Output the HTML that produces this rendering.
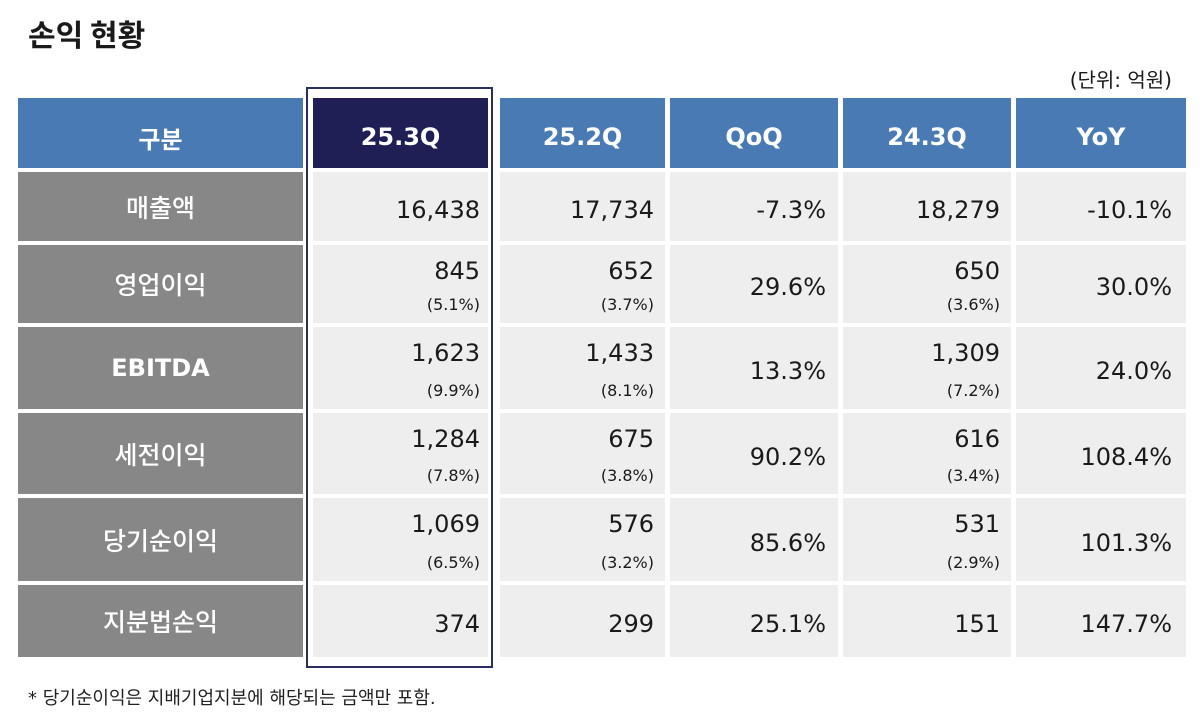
<!DOCTYPE html>
<html><head><meta charset="utf-8">
<style>
body{margin:0;width:1200px;height:723px;background:#fff;position:relative;overflow:hidden;font-family:"DejaVu Sans","Liberation Sans","Noto Sans CJK KR",sans-serif;color:#1a1a1a}
.a{position:absolute;box-sizing:border-box}
.hd{color:#fff;font-weight:bold;font-size:24px;display:flex;align-items:center;justify-content:center;font-family:"DejaVu Sans","Noto Sans CJK KR",sans-serif;padding-top:8px}
.lab{background:#878787;color:#fff;font-size:25px;display:flex;align-items:center;justify-content:center;font-family:"Noto Sans CJK KR","DejaVu Sans",sans-serif;font-weight:500}
.cell{background:#eeeeee}
.v{position:absolute;right:0;font-size:24px;white-space:nowrap;line-height:1}
.p{position:absolute;right:0;font-size:16px;white-space:nowrap;line-height:1}
</style></head><body>
<div class="a" style="left:28px;top:11px;font-size:30px;font-weight:bold;font-family:'Noto Sans CJK KR',sans-serif">손익 현황</div>
<div class="a" style="right:28px;top:64px;font-size:20px;font-family:'DejaVu Sans','Noto Sans CJK KR',sans-serif">(단위: 억원)</div>
<div class="a" style="left:306px;top:87px;width:187px;height:581px;border:2px solid #2a2f5c"></div>
<div id="t"></div>
<div class="a" style="left:28px;top:684px;font-size:18px;font-family:'DejaVu Sans','Noto Sans CJK KR',sans-serif;color:#222">* 당기순이익은 지배기업지분에 해당되는 금액만 포함.</div>
<script>
const headers=["구분","25.3Q","25.2Q","QoQ","24.3Q","YoY"];
const rowLabels=["매출액","영업이익","EBITDA","세전이익","당기순이익","지분법손익"];
const vals=[
["16,438","17,734","-7.3%","18,279","-10.1%"],
["845","652","29.6%","650","30.0%"],
["1,623","1,433","13.3%","1,309","24.0%"],
["1,284","675","90.2%","616","108.4%"],
["1,069","576","85.6%","531","101.3%"],
["374","299","25.1%","151","147.7%"]];
const pcts=[
["","","","",""],
["(5.1%)","(3.7%)","","(3.6%)",""],
["(9.9%)","(8.1%)","","(7.2%)",""],
["(7.8%)","(3.8%)","","(3.4%)",""],
["(6.5%)","(3.2%)","","(2.9%)",""],
["","","","",""]];
const colX=[[18,303],[313,488],[500,665],[670,838],[843,1011],[1016,1186]];
const textRight=[0,480,654,826,1000,1172];
const rowY=[[172,241],[245,323],[327,409],[413,494],[498,581],[585,657]];
const t=document.getElementById('t');
function box(x,y,w,h,cls){const d=document.createElement('div');d.className='a '+cls;d.style.left=x+'px';d.style.top=y+'px';d.style.width=w+'px';d.style.height=h+'px';t.appendChild(d);return d;}
headers.forEach((h,i)=>{
  const d=box(colX[i][0],98,colX[i][1]-colX[i][0],70,'hd');
  d.style.background=i===1?'#1f1f55':'#4a7ab4';
  if(i===0)d.style.fontFamily="'Noto Sans CJK KR',sans-serif";
  d.textContent=h;
  
  
});
rowLabels.forEach((r,ri)=>{
  const y0=rowY[ri][0],hh=rowY[ri][1]-rowY[ri][0];
  const l=box(colX[0][0],y0,colX[0][1]-colX[0][0],hh,'lab');
  if(r==='EBITDA'){l.style.fontFamily="'DejaVu Sans',sans-serif";l.style.fontWeight='bold';l.style.fontSize='24px';}
  l.textContent=r;
  
  
  for(let c=1;c<6;c++){
    const cell=box(colX[c][0],y0,colX[c][1]-colX[c][0],hh,'cell');
    
    
    const v=document.createElement('div');v.className='v';
    v.style.right=(colX[c][1]-textRight[c])+'px';
    const p=pcts[ri][c-1];
    v.style.top=(p?14:(hh/2-9))+'px';
    v.textContent=vals[ri][c-1];
    
    
    cell.appendChild(v);
    if(p){const q=document.createElement('div');q.className='p';
      q.style.right=(colX[c][1]-textRight[c])+'px';q.style.top=(hh-26)+'px';q.textContent=p;
      
      
      cell.appendChild(q);}
  }
});
</script>
</body></html>
